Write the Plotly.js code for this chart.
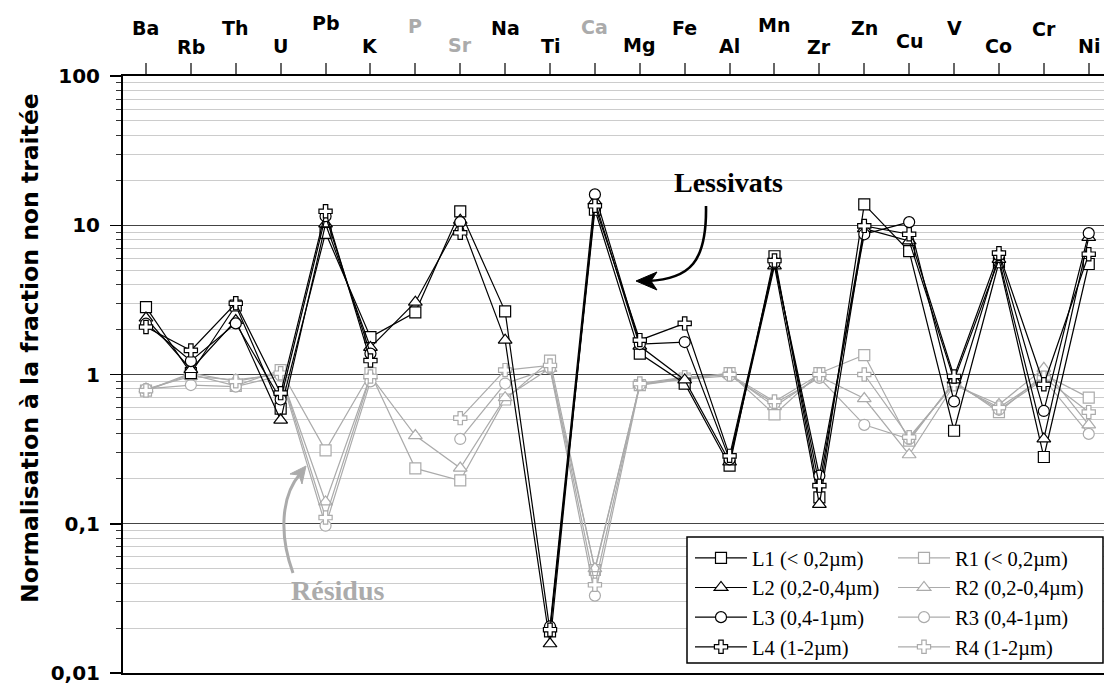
<!DOCTYPE html>
<html>
<head>
<meta charset="utf-8">
<script src="https://cdn.plot.ly/plotly-3.0.1.min.js"></script>
<style>html,body{margin:0;padding:0;background:#fff;}</style>
</head>
<body>
<div id="chart" style="width:1104px;height:686px;"></div>
<script>
// ---- data ----
const elements = ['Ba','Rb','Th','U','Pb','K','P','Sr','Na','Ti','Ca','Mg','Fe','Al','Mn','Zr','Zn','Cu','V','Co','Cr','Ni'];
const greyElements = ['P','Sr','Ca'];

const L1 = [2.83, 1.02, 2.9, 0.59, 8.9, 1.78, 2.61, 12.4, 2.65, 0.019, 12.7, 1.38, 0.87, 0.245, 6.2, 0.15, 13.8, 6.7, 0.42, 5.65, 0.28, 5.5];
const L2 = [2.39, 1.08, 2.3, 0.495, 10.2, 1.52, 3.05, 10.8, 1.7, 0.0157, 14.5, 1.55, 0.92, 0.26, 5.35, 0.135, 9.5, 7.85, 0.92, 5.9, 0.37, 8.3];
const L3 = [2.19, 1.23, 2.2, 0.68, 11.5, 1.38, null, 10.5, null, 0.0205, 16.1, 1.6, 1.65, 0.27, 5.6, 0.21, 8.7, 10.5, 0.66, 6.3, 0.57, 8.85];
const L4 = [2.08, 1.45, 3.0, 0.75, 12.4, 1.24, null, 8.9, null, 0.0195, 13.5, 1.7, 2.2, 0.285, 5.8, 0.18, 9.9, 8.7, 0.97, 6.5, 0.86, 6.4];

const R1 = [0.78, 1.0, 0.84, 1.07, 0.31, 1.02, 0.235, 0.195, 0.68, 1.24, 0.049, 0.85, 0.94, 1.02, 0.54, 1.02, 1.35, 0.36, 0.9, 0.56, 1.0, 0.7];
const R2 = [0.8, 0.97, 0.92, 1.0, 0.14, 0.98, 0.39, 0.236, 0.7, 1.1, 0.05, 0.86, 0.95, 1.0, 0.61, 0.97, 0.69, 0.29, 0.85, 0.63, 1.1, 0.46];
const R3 = [0.8, 0.85, 0.83, 0.98, 0.097, 0.9, null, 0.37, 0.87, 1.1, 0.033, 0.85, 0.93, 0.98, 0.64, 0.95, 0.46, 0.37, 0.88, 0.58, 0.93, 0.4];
const R4 = [0.78, 1.02, 0.9, 1.02, 0.11, 0.97, null, 0.51, 1.07, 1.15, 0.039, 0.87, 0.96, 1.0, 0.66, 1.0, 1.0, 0.38, 0.86, 0.6, 0.95, 0.56];

const lNames = ['L1 (< 0,2µm)', 'L2 (0,2-0,4µm)', 'L3 (0,4-1µm)', 'L4 (1-2µm)'];
const rNames = ['R1 (< 0,2µm)', 'R2 (0,2-0,4µm)', 'R3 (0,4-1µm)', 'R4 (1-2µm)'];
const yTickText = ['0,01', '0,1', '1', '10', '100'];
const yTickVals = [0.01, 0.1, 1, 10, 100];
const annLessivats = 'Lessivats';
const annResidus = 'Résidus';
const yTitle = 'Normalisation à la fraction non traitée';

// ---- style / layout ----
const W = 1104, H = 686;
const PL = 123, PR = 1104, PT = 76, PB = 673;
const px = x => (x - PL) / (PR - PL);
const py = y => (PB - y) / (PB - PT);
const GREY = '#ababab';
const symbols = ['square', 'triangle-up', 'circle', 'cross'];
const labelY = [28,47,28,46,23,46,26,45,28,46,27,45,28,46,25,47,28,41,28,46,29,46];

const traces = [];
[R1, R2, R3, R4].forEach((s, i) => {
  traces.push({
    x: elements, y: s, name: rNames[i], type: 'scatter', mode: 'lines+markers',
    legend: 'legend2', connectgaps: false,
    line: {color: GREY, width: 1.2},
    marker: {symbol: symbols[i], size: i === 1 ? 12 : 11, color: 'white', line: {color: GREY, width: 1.2}}
  });
});
[L1, L2, L3, L4].forEach((s, i) => {
  traces.push({
    x: elements, y: s, name: lNames[i], type: 'scatter', mode: 'lines+markers',
    legend: 'legend', connectgaps: false,
    line: {color: 'black', width: 1.2},
    marker: {symbol: symbols[i], size: i === 1 ? 12 : 11, color: 'white', line: {color: 'black', width: 1.2}}
  });
});

const annotations = elements.map((e, i) => ({
  x: e, xref: 'x', y: py(labelY[i]), yref: 'paper', yanchor: 'middle', xanchor: 'center',
  text: '<b>' + e + '</b>', showarrow: false,
  font: {family: 'DejaVu Sans', size: 19, color: greyElements.includes(e) ? GREY : 'black'}
}));
annotations.push({
  x: px(30), xref: 'paper', y: py(348), yref: 'paper', textangle: -90,
  text: '<b>' + yTitle + '</b>', showarrow: false, xanchor: 'center', yanchor: 'middle',
  font: {family: 'DejaVu Sans', size: 23.5, color: 'black'}
});
annotations.push({
  x: px(728), xref: 'paper', y: py(182), yref: 'paper', xanchor: 'center', yanchor: 'middle',
  text: '<b>' + annLessivats + '</b>', showarrow: false,
  font: {family: 'Liberation Serif', size: 28, color: 'black'}
});
annotations.push({
  x: px(337), xref: 'paper', y: py(590), yref: 'paper', xanchor: 'center', yanchor: 'middle',
  text: '<b>' + annResidus + '</b>', showarrow: false,
  font: {family: 'Liberation Serif', size: 28, color: GREY}
});

const P = (x, y) => px(x).toFixed(5) + ',' + py(y).toFixed(5);
const shapes = [
  {type: 'rect', xref: 'paper', yref: 'paper', x0: px(687), x1: px(1103), y0: py(663), y1: py(537),
   line: {color: 'black', width: 1.5}, fillcolor: 'white', layer: 'above'},
  {type: 'path', xref: 'paper', yref: 'paper', layer: 'above',
   path: 'M' + P(706, 206) + ' C' + P(707, 262) + ' ' + P(690, 279) + ' ' + P(648, 281),
   line: {color: 'black', width: 2.6}},
  {type: 'path', xref: 'paper', yref: 'paper', layer: 'above',
   path: 'M' + P(636, 281) + ' L' + P(657, 272) + ' L' + P(651, 281) + ' L' + P(657, 290) + ' Z',
   line: {color: 'black', width: 1}, fillcolor: 'black'},
  {type: 'path', xref: 'paper', yref: 'paper', layer: 'above',
   path: 'M' + P(293, 573) + ' C' + P(279, 535) + ' ' + P(281, 496) + ' ' + P(300, 474),
   line: {color: GREY, width: 3}},
  {type: 'path', xref: 'paper', yref: 'paper', layer: 'above',
   path: 'M' + P(306, 466) + ' L' + P(290, 474) + ' L' + P(299, 475) + ' L' + P(302, 484) + ' Z',
   line: {color: GREY, width: 1}, fillcolor: GREY}
];

const legendCommon = {
  yanchor: 'top', xanchor: 'left', bgcolor: 'rgba(0,0,0,0)', borderwidth: 0,
  font: {family: 'Liberation Serif', size: 20.5, color: 'black'}, itemwidth: 52,
  tracegroupgap: 0, itemclick: false
};

const layout = {
  width: W, height: H,
  margin: {l: PL, r: W - PR, t: PT, b: H - PB, pad: 0},
  paper_bgcolor: 'white', plot_bgcolor: 'white',
  showlegend: true,
  legend: Object.assign({}, legendCommon, {x: px(690), y: py(538)}),
  legend2: Object.assign({}, legendCommon, {x: px(893), y: py(538)}),
  xaxis: {
    type: 'category', categoryorder: 'array', categoryarray: elements,
    range: [-0.512, 21.34], side: 'top', showgrid: false, zeroline: false,
    ticks: 'outside', ticklen: 11, tickwidth: 2, tickcolor: '#666',
    showticklabels: false, showline: true, linecolor: 'black', linewidth: 2, mirror: true
  },
  yaxis: {
    type: 'log', range: [-2, 2], tickmode: 'array', tickvals: yTickVals, ticktext: yTickText,
    showgrid: true, gridcolor: '#444', gridwidth: 1, zeroline: false,
    ticks: 'outside', ticklen: 11, tickwidth: 1.5, tickcolor: 'black',
    minor: {dtick: 'D1', ticks: 'outside', ticklen: 5, tickcolor: '#333', tickwidth: 1,
            showgrid: true, gridcolor: '#cccccc', gridwidth: 1},
    showline: true, linecolor: 'black', linewidth: 2, mirror: true,
    tickfont: {family: 'DejaVu Sans', size: 20, color: 'black', weight: 'bold'},
    ticklabelstandoff: 6, ticklabeloverflow: 'allow'
  },
  annotations: annotations,
  shapes: shapes
};

Plotly.newPlot('chart', traces, layout, {displayModeBar: false, staticPlot: true});
</script>
</body>
</html>
